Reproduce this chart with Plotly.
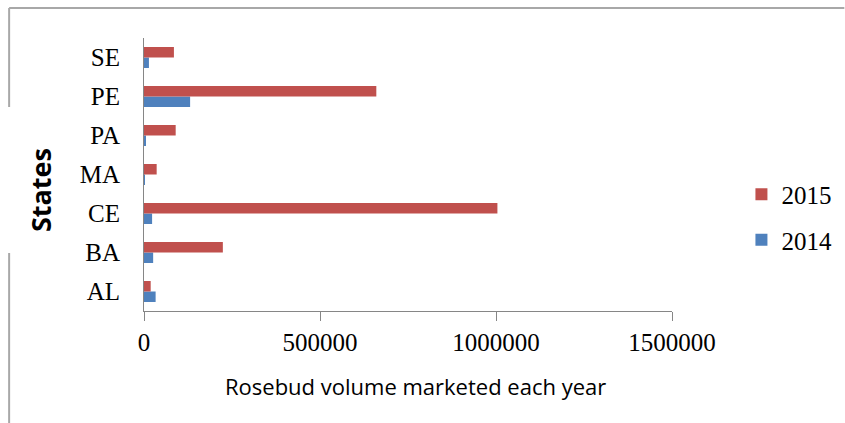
import plotly.graph_objects as go

states = ["AL", "BA", "CE", "MA", "PA", "PE", "SE"]
vol_2014 = [33000, 26000, 23000, 2000, 3000, 131000, 14000]
vol_2015 = [19000, 224000, 1004000, 36000, 90000, 660000, 85000]
x_ticks = [0, 500000, 1000000, 1500000]

W, H = 845, 423
L, R, T, B = 144, 172.5, 38, 112
pw, ph = W - L - R, H - T - B

def px(x):
    return (x - L) / pw

def py(y):
    return (H - B - y) / ph

fig = go.Figure()
fig.add_trace(go.Bar(y=states, x=vol_2014, name="2014", orientation="h",
                     marker=dict(color="#4F81BD", line=dict(width=0)),
                     legendgroup="a", legendrank=2))
fig.add_trace(go.Bar(y=states, x=vol_2015, name="2015", orientation="h",
                     marker=dict(color="#C0504D", line=dict(width=0)),
                     legendgroup="b", legendrank=1))

serif = "Liberation Serif, Times New Roman, serif"
fig.update_layout(
    width=W, height=H,
    margin=dict(l=L, r=R, t=T, b=B, autoexpand=False),
    paper_bgcolor="white", plot_bgcolor="white",
    barmode="group", bargap=0.46, bargroupgap=0,
    showlegend=True,
    legend=dict(x=px(742), y=py(217), xanchor="left", yanchor="middle",
                traceorder="grouped", tracegroupgap=10,
                font=dict(family=serif, size=25, color="black"),
                itemwidth=30, bgcolor="rgba(0,0,0,0)", borderwidth=0),
    xaxis=dict(range=[0, 1500000], tickvals=x_ticks, ticktext=[str(v) for v in x_ticks],
               showgrid=False, zeroline=False, showline=True, linecolor="#868686", linewidth=1,
               ticks="outside", ticklen=9, tickcolor="#868686", automargin=False,
               tickfont=dict(family=serif, size=25, color="black")),
    yaxis=dict(showgrid=False, zeroline=False, showline=True, linecolor="#868686", linewidth=1,
               ticks="", ticklabelstandoff=18, automargin=False,
               tickfont=dict(family=serif, size=25, color="black")),
    font=dict(family=serif),
)

fig.add_annotation(text="Rosebud volume marketed each year", xref="paper", yref="paper",
                   x=px(416), y=py(386), showarrow=False, xanchor="center", yanchor="middle",
                   font=dict(family="Open Sans, sans-serif", size=22, color="black"))
fig.add_annotation(text="<b>States</b>", xref="paper", yref="paper", textangle=-90,
                   x=px(40), y=py(190), showarrow=False, xanchor="center", yanchor="middle",
                   font=dict(family="Open Sans, sans-serif", size=27, color="black"))

border = dict(color="#A8A8A8", width=2)
fig.add_shape(type="line", xref="paper", yref="paper", x0=px(9), x1=px(845), y0=py(8), y1=py(8), line=border)
fig.add_shape(type="line", xref="paper", yref="paper", x0=px(9), x1=px(9), y0=py(8), y1=py(107), line=border)
fig.add_shape(type="line", xref="paper", yref="paper", x0=px(9), x1=px(9), y0=py(253), y1=py(423), line=border)

fig.write_html("out.html", config={"displayModeBar": False})
